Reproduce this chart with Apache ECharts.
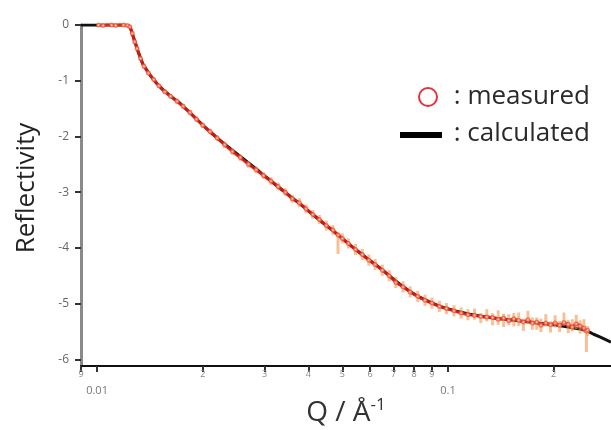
<!DOCTYPE html>
<html><head><meta charset="utf-8">
<script src="https://cdn.jsdelivr.net/npm/echarts@6/dist/echarts.min.js"></script>
<style>html,body{margin:0;padding:0;background:#fff}#c{width:611px;height:430px}</style>
</head><body><div id="c"></div>
<script>
// calculated curve (Q in 1/Å, log10 reflectivity)
const calcQ = [0.0090, 0.0100, 0.0110, 0.0120, 0.0124, 0.0127, 0.0131, 0.0135, 0.0142, 0.0148, 0.0154, 0.0163, 0.0172, 0.0190, 0.0210, 0.0230, 0.0256, 0.0290, 0.0332, 0.0380, 0.0432, 0.0480, 0.0526, 0.0580, 0.0640, 0.0690, 0.0729, 0.0770, 0.0815, 0.0880, 0.0948, 0.1050, 0.1154, 0.1280, 0.1404, 0.1600, 0.1791, 0.2000, 0.2158, 0.2350, 0.2493, 0.2600, 0.2718, 0.2914];
const calcR = [0, 0, 0, 0, -0.02, -0.22, -0.48, -0.70, -0.91, -1.05, -1.16, -1.29, -1.40, -1.66, -1.92, -2.13, -2.36, -2.63, -2.93, -3.22, -3.51, -3.74, -3.95, -4.16, -4.36, -4.53, -4.65, -4.76, -4.86, -4.96, -5.05, -5.13, -5.19, -5.24, -5.27, -5.31, -5.35, -5.38, -5.41, -5.45, -5.49, -5.55, -5.60, -5.69];

// measured data
const measQ = [0.0101, 0.0104, 0.0107, 0.0110, 0.0113, 0.0116, 0.0119, 0.0122, 0.0124, 0.0126, 0.0128, 0.0130, 0.0133, 0.0136, 0.0140, 0.0145, 0.0150, 0.0156, 0.0162, 0.0169, 0.0176, 0.0184, 0.0192, 0.0200, 0.0210, 0.0220, 0.0231, 0.0243, 0.0256, 0.0270, 0.0284, 0.0298, 0.0313, 0.0328, 0.0344, 0.0360, 0.0377, 0.0394, 0.0412, 0.0430, 0.0450, 0.0470, 0.0486, 0.0500, 0.0520, 0.0545, 0.0570, 0.0595, 0.0620, 0.0650, 0.0680, 0.0710, 0.0745, 0.0780, 0.0820, 0.0860, 0.0900, 0.0945, 0.0990, 0.1040, 0.1090, 0.1140, 0.1190, 0.1240, 0.1290, 0.1340, 0.1390, 0.1440, 0.1490, 0.1540, 0.1590, 0.1640, 0.1690, 0.1740, 0.1790, 0.1840, 0.1900, 0.1960, 0.2020, 0.2080, 0.2140, 0.2200, 0.2260, 0.2320, 0.2380, 0.2440, 0.2480, 0.2500];
const measR = [0.00, -0.01, 0.01, 0.00, -0.01, 0.01, 0.00, -0.01, -0.03, -0.15, -0.30, -0.42, -0.60, -0.74, -0.86, -0.98, -1.09, -1.20, -1.28, -1.37, -1.46, -1.57, -1.69, -1.80, -1.91, -2.03, -2.15, -2.27, -2.38, -2.50, -2.60, -2.70, -2.80, -2.90, -3.00, -3.12, -3.19, -3.30, -3.40, -3.49, -3.60, -3.68, -3.77, -3.83, -3.92, -4.03, -4.12, -4.22, -4.30, -4.40, -4.50, -4.62, -4.70, -4.79, -4.87, -4.94, -4.99, -5.05, -5.09, -5.13, -5.17, -5.20, -5.21, -5.23, -5.24, -5.25, -5.28, -5.26, -5.31, -5.27, -5.30, -5.33, -5.29, -5.35, -5.33, -5.39, -5.35, -5.38, -5.35, -5.39, -5.34, -5.37, -5.42, -5.36, -5.40, -5.44, -5.49, -5.48];
const measErrLo = [0.03, 0.03, 0.03, 0.03, 0.03, 0.03, 0.03, 0.03, 0.03, 0.04, 0.04, 0.04, 0.04, 0.04, 0.04, 0.04, 0.04, 0.04, 0.04, 0.05, 0.05, 0.05, 0.05, 0.05, 0.05, 0.05, 0.06, 0.06, 0.06, 0.06, 0.06, 0.06, 0.07, 0.07, 0.07, 0.07, 0.08, 0.08, 0.08, 0.08, 0.09, 0.09, 0.34, 0.09, 0.09, 0.10, 0.10, 0.10, 0.10, 0.10, 0.10, 0.10, 0.10, 0.10, 0.10, 0.10, 0.10, 0.10, 0.10, 0.10, 0.10, 0.10, 0.08, 0.12, 0.08, 0.14, 0.10, 0.16, 0.08, 0.14, 0.10, 0.16, 0.08, 0.12, 0.14, 0.12, 0.06, 0.14, 0.08, 0.12, 0.06, 0.16, 0.08, 0.10, 0.14, 0.08, 0.38, 0.10];
const measErrHi = [0.03, 0.03, 0.03, 0.03, 0.03, 0.03, 0.03, 0.03, 0.03, 0.04, 0.04, 0.04, 0.04, 0.04, 0.04, 0.04, 0.04, 0.04, 0.04, 0.05, 0.05, 0.05, 0.05, 0.05, 0.05, 0.05, 0.06, 0.06, 0.06, 0.06, 0.06, 0.06, 0.07, 0.07, 0.07, 0.07, 0.08, 0.08, 0.08, 0.08, 0.09, 0.09, 0.05, 0.09, 0.09, 0.10, 0.10, 0.10, 0.10, 0.10, 0.10, 0.10, 0.10, 0.10, 0.10, 0.10, 0.10, 0.10, 0.10, 0.10, 0.10, 0.10, 0.12, 0.06, 0.14, 0.08, 0.16, 0.08, 0.12, 0.10, 0.14, 0.06, 0.16, 0.10, 0.08, 0.12, 0.16, 0.06, 0.14, 0.08, 0.18, 0.08, 0.14, 0.16, 0.10, 0.16, 0.04, 0.08];

// axis ticks
const xTickVals = [0.009, 0.01, 0.02, 0.03, 0.04, 0.05, 0.06, 0.07, 0.08, 0.09, 0.1, 0.2];
const xTickLabels = ['9', '0.01', '2', '3', '4', '5', '6', '7', '8', '9', '0.1', '2'];
const yTickVals = [0, -1, -2, -3, -4, -5, -6];
const yTickLabels = ['0', '-1', '-2', '-3', '-4', '-5', '-6'];

const calcData = calcQ.map((q, i) => [q, calcR[i]]);
const measData = measQ.map((q, i) => [q, measR[i]]);
const errData = measQ.map((q, i) => [q, measR[i] - measErrLo[i], measR[i] + measErrHi[i]]);

function xLabel(v) {
  for (let i = 0; i < xTickVals.length; i++) {
    if (Math.abs(v - xTickVals[i]) / xTickVals[i] < 1e-4) {
      const t = xTickLabels[i];
      return (t.indexOf('.') >= 0) ? '{d|' + t + '}' : '{n|' + t + '}';
    }
  }
  return '';
}
function yLabel(v) {
  for (let i = 0; i < yTickVals.length; i++) {
    if (Math.abs(v - yTickVals[i]) < 1e-6) return yTickLabels[i];
  }
  return '';
}

const FONT = '"Open Sans", "Noto Sans", sans-serif';
const chart = echarts.init(document.getElementById('c'));
chart.setOption({
  animation: false,
  backgroundColor: '#ffffff',
  grid: { left: 81, right: 0, top: 25, bottom: 64, containLabel: false },
  xAxis: {
    type: 'log', logBase: 10, min: 0.009, max: 0.2914,
    axisLine: { onZero: false, lineStyle: { color: '#111', width: 2 } },
    axisTick: { show: true, length: 6, inside: false, customValues: xTickVals, lineStyle: { color: '#333', width: 2 } },
    axisLabel: {
      show: true, customValues: xTickVals, margin: 4, color: '#777', fontFamily: FONT,
      formatter: xLabel,
      rich: {
        n: { fontSize: 9, color: '#888', fontFamily: FONT },
        d: { fontSize: 11, color: '#777', fontFamily: FONT, padding: [15, 0, 0, 0] }
      }
    },
    splitLine: { show: false }, minorTick: { show: false }
  },
  yAxis: {
    type: 'value', min: -6.12, max: 0,
    axisLine: { show: true, onZero: false, lineStyle: { color: '#8a8a8a', width: 3 } },
    axisTick: { show: true, length: 6, customValues: yTickVals, lineStyle: { color: '#333', width: 2 } },
    axisLabel: { show: true, customValues: yTickVals, margin: 12, color: '#666', fontSize: 12, fontFamily: FONT, formatter: yLabel },
    splitLine: { show: false }
  },
  series: [
    {
      name: 'calculated', type: 'line', data: calcData, showSymbol: false, smooth: false,
      lineStyle: { color: '#111', width: 3 }, z: 2
    },
    {
      name: 'error', type: 'custom', z: 3,
      renderItem: function (params, api) {
        const q = api.value(0);
        const p1 = api.coord([q, api.value(1)]);
        const p2 = api.coord([q, api.value(2)]);
        return {
          type: 'line',
          shape: { x1: p1[0], y1: p1[1], x2: p2[0], y2: p2[1] },
          style: { stroke: 'rgba(245,150,80,0.6)', lineWidth: 3 }
        };
      },
      encode: { x: 0, y: [1, 2] },
      data: errData
    },
    {
      name: 'measured', type: 'line', data: measData, showSymbol: true, symbol: 'emptyCircle', symbolSize: 3,
      itemStyle: { color: 'rgba(240,90,60,0.7)', borderWidth: 1 },
      lineStyle: { color: 'rgba(228,30,20,0.85)', width: 3 }, z: 4
    }
  ],
  graphic: [
    { type: 'text', x: 27, y: 188, rotation: Math.PI / 2,
      style: { text: 'Reflectivity', fontSize: 26, fontFamily: FONT, fill: '#222', align: 'center', verticalAlign: 'middle' } },
    { type: 'text', x: 346, y: 413,
      style: { text: '{m|Q / Å}{s|-1}', align: 'center', verticalAlign: 'middle',
        rich: { m: { fontSize: 28, fontFamily: FONT, fill: '#333', color: '#333' },
                s: { fontSize: 17, fontFamily: FONT, fill: '#333', color: '#333', padding: [0, 0, 15, 0] } } } },
    { type: 'circle', shape: { cx: 428, cy: 97, r: 9 }, style: { fill: 'none', stroke: '#e8323a', lineWidth: 2 } },
    { type: 'text', x: 590, y: 97,
      style: { text: ': measured', fontSize: 26, fontFamily: FONT, fill: '#2a2a2a', align: 'right', verticalAlign: 'middle' } },
    { type: 'rect', shape: { x: 400, y: 132, width: 42, height: 6 }, style: { fill: '#000' } },
    { type: 'text', x: 590, y: 134,
      style: { text: ': calculated', fontSize: 26, fontFamily: FONT, fill: '#2a2a2a', align: 'right', verticalAlign: 'middle' } }
  ]
});
</script>
</body></html>
